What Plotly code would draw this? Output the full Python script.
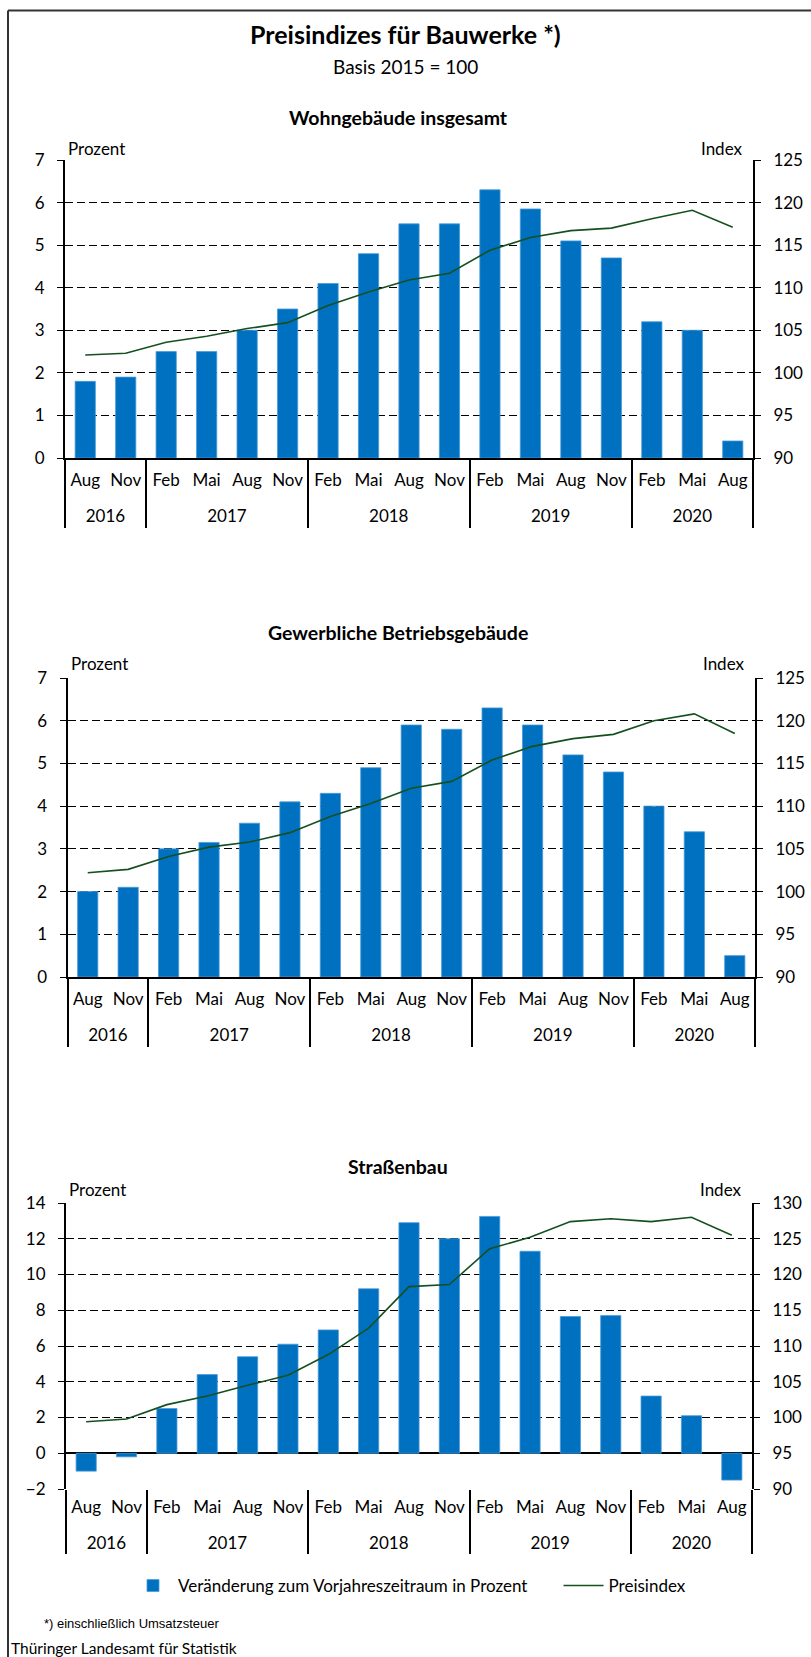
import plotly.graph_objects as go

# ---------------- data ----------------
years = ['2016', '2016', '2017', '2017', '2017', '2017', '2018', '2018', '2018', '2018',
         '2019', '2019', '2019', '2019', '2020', '2020', '2020']
months = ['Aug', 'Nov', 'Feb', 'Mai', 'Aug', 'Nov', 'Feb', 'Mai', 'Aug', 'Nov',
          'Feb', 'Mai', 'Aug', 'Nov', 'Feb', 'Mai', 'Aug']

wohn_pct = [1.8, 1.9, 2.5, 2.5, 3.0, 3.5, 4.1, 4.8, 5.5, 5.5, 6.3, 5.85, 5.1, 4.7, 3.2, 3.0, 0.4]
wohn_idx = [102.1, 102.3, 103.6, 104.3, 105.2, 105.9, 107.9, 109.5, 110.9, 111.7,
            114.4, 115.9, 116.7, 117.0, 118.1, 119.1, 117.1]

gew_pct = [2.0, 2.1, 3.0, 3.15, 3.6, 4.1, 4.3, 4.9, 5.9, 5.8, 6.3, 5.9, 5.2, 4.8, 4.0, 3.4, 0.5]
gew_idx = [102.2, 102.6, 104.1, 105.2, 105.8, 106.9, 108.8, 110.3, 112.1, 112.9,
           115.4, 117.0, 117.9, 118.4, 120.0, 120.8, 118.5]

str_pct = [-1.0, -0.2, 2.5, 4.4, 5.4, 6.1, 6.9, 9.2, 12.9, 12.0, 13.25, 11.3, 7.65, 7.7, 3.2, 2.1, -1.5]
str_idx = [99.4, 99.8, 101.8, 103.0, 104.5, 105.9, 108.8, 112.5, 118.3, 118.6,
           123.6, 125.2, 127.4, 127.8, 127.4, 128.0, 125.5]

panel_titles = ['Wohngebäude insgesamt', 'Gewerbliche Betriebsgebäude', 'Straßenbau']
bar_name = 'Veränderung zum Vorjahreszeitraum in Prozent'
line_name = 'Preisindex'

# ---------------- styling ----------------
W, H = 811, 1657
FONT = 'Lato'
BAR_COLOR = '#0070C0'
LINE_COLOR = '#14501E'
TICK = 17

# month labels: unique invisible suffix keeps chronological order inside each
# year group; a tiny second line adds space between month row and year row
month_keys = [m + '\u200b' * k + "<br><span style='font-size:4px'>\u00a0</span>"
              for k, m in enumerate(months)]
x_cats = [years, month_keys]


def X(px):
    return px / W


def Y(py):
    return 1 - py / H


panels = [
    dict(pct=wohn_pct, idx=wohn_idx, x0=65, x1=753, y0=160, y1=458,
         lrange=[0, 7], ldtick=1, rrange=[90, 125], zero=False,
         title_y=117, unit_y=149),
    dict(pct=gew_pct, idx=gew_idx, x0=67.5, x1=755, y0=678, y1=977,
         lrange=[0, 7], ldtick=1, rrange=[90, 125], zero=False,
         title_y=632, unit_y=663),
    dict(pct=str_pct, idx=str_idx, x0=66, x1=752, y0=1203, y1=1489,
         lrange=[-2, 14], ldtick=2, rrange=[90, 130], zero=True,
         title_y=1166, unit_y=1189),
]

fig = go.Figure()
layout = dict(
    width=W, height=H,
    margin=dict(l=0, r=0, t=0, b=0, autoexpand=False),
    paper_bgcolor='white', plot_bgcolor='white',
    font=dict(family=FONT, size=TICK, color='black'),
    bargap=0.5,
    showlegend=True,
    legend=dict(orientation='h', x=X(128), xanchor='left', y=Y(1586), yanchor='middle',
                font=dict(family=FONT, size=17, color='black'),
                traceorder='normal', itemwidth=40,
                bgcolor='rgba(0,0,0,0)'),
)

annotations = []
shapes = []

for i, p in enumerate(panels, start=1):
    xa = 'x' if i == 1 else f'x{i}'
    ya_l = 'y' if i == 1 else f'y{2 * i - 1}'
    ya_r = f'y{2 * i}'
    fig.add_trace(go.Bar(x=x_cats, y=p['pct'],
                         name=bar_name + '\u00a0' * 6,
                         marker=dict(color=BAR_COLOR, line=dict(width=0.8, color='#4A9AD8')),
                         xaxis=xa, yaxis=ya_l, showlegend=(i == 1),
                         hoverinfo='skip'))
    fig.add_trace(go.Scatter(x=x_cats, y=p['idx'], name=line_name, mode='lines',
                             line=dict(color=LINE_COLOR, width=1.6),
                             xaxis=xa, yaxis=ya_r, showlegend=(i == 1),
                             hoverinfo='skip'))

    xkey = 'xaxis' if i == 1 else f'xaxis{i}'
    ylkey = 'yaxis' if i == 1 else f'yaxis{2 * i - 1}'
    yrkey = f'yaxis{2 * i}'

    layout[xkey] = dict(
        type='multicategory', domain=[X(p['x0']), X(p['x1'])], anchor=ya_l,
        showgrid=False, zeroline=False,
        showline=not p['zero'], linecolor='black', linewidth=2,
        ticks='', showdividers=True, dividercolor='black', dividerwidth=1.5,
        ticklabelstandoff=6,
        tickfont=dict(family=FONT, size=TICK, color='black'),
    )
    layout[ylkey] = dict(
        domain=[Y(p['y1']), Y(p['y0'])], anchor=xa, range=p['lrange'], dtick=p['ldtick'],
        showgrid=True, gridcolor='black', gridwidth=1, griddash='8px,4px',
        showline=True, linecolor='black', linewidth=2, mirror=False,
        ticks='outside', ticklen=6, tickcolor='black', tickwidth=1,
        ticklabelstandoff=9,
        zeroline=p['zero'], zerolinecolor='black', zerolinewidth=2,
        tickfont=dict(family=FONT, size=TICK, color='black'),
        fixedrange=True,
    )
    layout[yrkey] = dict(
        overlaying=ya_l, side='right', anchor=xa, range=p['rrange'], dtick=5,
        showgrid=False, zeroline=False,
        showline=True, linecolor='black', linewidth=2,
        ticks='outside', ticklen=6, tickcolor='black', tickwidth=1,
        ticklabelstandoff=9,
        tickfont=dict(family=FONT, size=TICK, color='black'),
        fixedrange=True,
    )

    annotations.append(dict(text=f'<b>{panel_titles[i - 1]}</b>', x=X(398), y=Y(p['title_y']),
                            xref='paper', yref='paper', xanchor='center', yanchor='middle',
                            showarrow=False, font=dict(family=FONT, size=19.5, color='black')))
    annotations.append(dict(text='Prozent', x=X(p['x0'] + 1), y=Y(p['unit_y']),
                            xref='paper', yref='paper', xanchor='left', yanchor='middle',
                            showarrow=False, font=dict(family=FONT, size=TICK, color='black')))
    annotations.append(dict(text='Index', x=X(p['x1'] - 8), y=Y(p['unit_y']),
                            xref='paper', yref='paper', xanchor='right', yanchor='middle',
                            showarrow=False, font=dict(family=FONT, size=TICK, color='black')))

annotations.append(dict(text='<b>Preisindizes für Bauwerke *)</b>', x=X(405), y=Y(34),
                        xref='paper', yref='paper', xanchor='center', yanchor='middle',
                        showarrow=False, font=dict(family=FONT, size=25, color='black')))
annotations.append(dict(text='Basis 2015 = 100', x=X(405), y=Y(66),
                        xref='paper', yref='paper', xanchor='center', yanchor='middle',
                        showarrow=False, font=dict(family=FONT, size=19, color='black')))
annotations.append(dict(text='*) einschließlich Umsatzsteuer', x=X(42), y=Y(1623),
                        xref='paper', yref='paper', xanchor='left', yanchor='middle',
                        showarrow=False,
                        font=dict(family='Liberation Sans Narrow, Liberation Sans', size=13, color='black')))
annotations.append(dict(text='Thüringer Landesamt für Statistik', x=X(9), y=Y(1648),
                        xref='paper', yref='paper', xanchor='left', yanchor='middle',
                        showarrow=False, font=dict(family=FONT, size=15.5, color='black')))

# frame lines (top and left)
shapes.append(dict(type='line', xref='paper', yref='paper', x0=X(8), x1=1, y0=Y(10.5), y1=Y(10.5),
                   line=dict(color='#333333', width=2)))
shapes.append(dict(type='line', xref='paper', yref='paper', x0=X(8), x1=X(8), y0=Y(10.5), y1=0,
                   line=dict(color='#333333', width=2)))

layout['annotations'] = annotations
layout['shapes'] = shapes
fig.update_layout(**layout)

fig.write_html('out.html',
               config={'displayModeBar': False, 'staticPlot': False},
               post_script="document.body.style.margin='0';"
                           "document.body.style.overflow='hidden';"
                           "document.documentElement.style.overflow='hidden';")
